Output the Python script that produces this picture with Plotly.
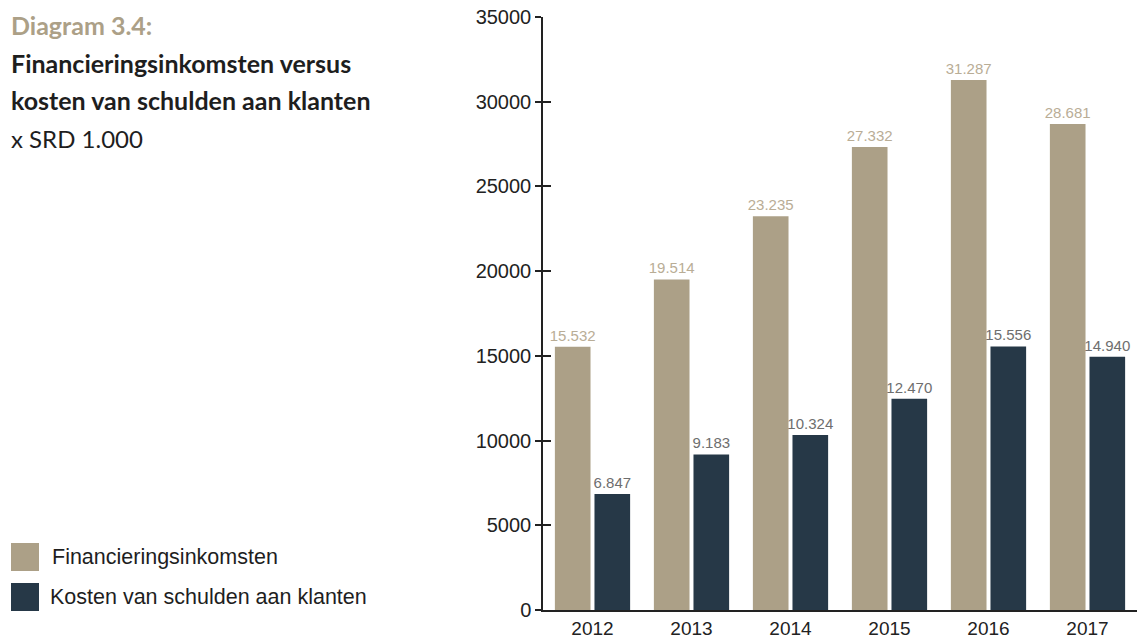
import plotly.graph_objects as go

years = ["2012", "2013", "2014", "2015", "2016", "2017"]
financieringsinkomsten = [15532, 19514, 23235, 27332, 31287, 28681]
kosten_schulden = [6847, 9183, 10324, 12470, 15556, 14940]
y_ticks = [0, 5000, 10000, 15000, 20000, 25000, 30000, 35000]

TAN = "#aca087"
NAVY = "#263847"
TAN_TXT = "#b9ad96"
GRAY_TXT = "#6e6e6e"
AXIS = "#222222"

W, H = 1140, 640
L, R, T, B = 543, 3, 17, 30
PW = W - L - R
PH = H - T - B


def px(x):
    return (x - L) / PW


def py(y):
    return (H - B - y) / PH


fig = go.Figure()
fig.add_trace(go.Bar(
    x=years, y=financieringsinkomsten, name="Financieringsinkomsten",
    marker=dict(color=TAN, line=dict(width=0)),
    texttemplate="%{y:,}", textposition="outside", constraintext="none",
    textfont=dict(family="Liberation Sans, Arial", size=15, color=TAN_TXT),
    cliponaxis=False,
))
fig.add_trace(go.Bar(
    x=years, y=kosten_schulden, name="Kosten van schulden aan klanten",
    marker=dict(color=NAVY, line=dict(width=0)),
    texttemplate="%{y:,}", textposition="outside", constraintext="none",
    textfont=dict(family="Liberation Sans, Arial", size=15, color=GRAY_TXT),
    cliponaxis=False,
))
# invisible helper trace for the inner half of the y ticks
fig.add_trace(go.Scatter(
    x=years, y=financieringsinkomsten, yaxis="y2", mode="none",
    hoverinfo="skip", showlegend=False,
))

fig.update_layout(
    width=W, height=H,
    margin=dict(l=L, r=R, t=T, b=B, pad=0, autoexpand=False),
    paper_bgcolor="white", plot_bgcolor="white",
    barmode="group", bargap=0.2, bargroupgap=0.1,
    separators=",.",
    showlegend=False,
    font=dict(family="Liberation Sans, Arial", size=20, color=AXIS),
    xaxis=dict(
        range=[-0.5, 5.5], showline=True, linecolor=AXIS, linewidth=1.5,
        ticks="", showgrid=False, zeroline=False, automargin=False,
        tickfont=dict(size=19, color=AXIS),
    ),
    yaxis=dict(
        range=[0, 35000], tickvals=y_ticks, tickformat="d",
        showline=True, linecolor=AXIS, linewidth=1.5,
        ticks="outside", ticklen=6, tickwidth=1.5, tickcolor=AXIS,
        showgrid=False, zeroline=False, automargin=False,
        tickfont=dict(size=20, color=AXIS),
    ),
    yaxis2=dict(
        range=[0, 35000], tickvals=y_ticks, overlaying="y", side="left",
        anchor="x", showline=False, ticks="inside", ticklen=8,
        tickwidth=1.5, tickcolor=AXIS, showticklabels=False,
        showgrid=False, zeroline=False, automargin=False,
    ),
)

TITLE_FONT = "Lato, Open Sans, sans-serif"
title_lines = [
    ("<b>Diagram 3.4:</b>", 25, TAN, 25),
    ("<b>Financieringsinkomsten versus</b>", 63, "#1e1e1e", 25),
    ("<b>kosten van schulden aan klanten</b>", 100, "#1e1e1e", 25),
    ("x SRD 1.000", 138, "#1e1e1e", 24),
]
for text, yc, col, fs in title_lines:
    fig.add_annotation(
        text=text, xref="paper", yref="paper", x=px(9), y=py(yc),
        xanchor="left", yanchor="middle", showarrow=False,
        font=dict(family=TITLE_FONT, size=fs, color=col),
    )

legend_items = [
    ("Financieringsinkomsten", TAN, 543, 571, 50),
    ("Kosten van schulden aan klanten", NAVY, 583, 611, 48),
]
for label, col, y0, y1, tx in legend_items:
    fig.add_shape(
        type="rect", xref="paper", yref="paper",
        x0=px(11), x1=px(39), y0=py(y1), y1=py(y0),
        fillcolor=col, line=dict(width=0),
    )
    fig.add_annotation(
        text=label, xref="paper", yref="paper", x=px(tx), y=py((y0 + y1) / 2),
        xanchor="left", yanchor="middle", showarrow=False,
        font=dict(family="Liberation Sans, Arial", size=21.5, color="#1e1e1e"),
    )

fig.write_html(
    "out.html",
    config={"displayModeBar": False},
    post_script="document.body.style.margin='0';",
)
